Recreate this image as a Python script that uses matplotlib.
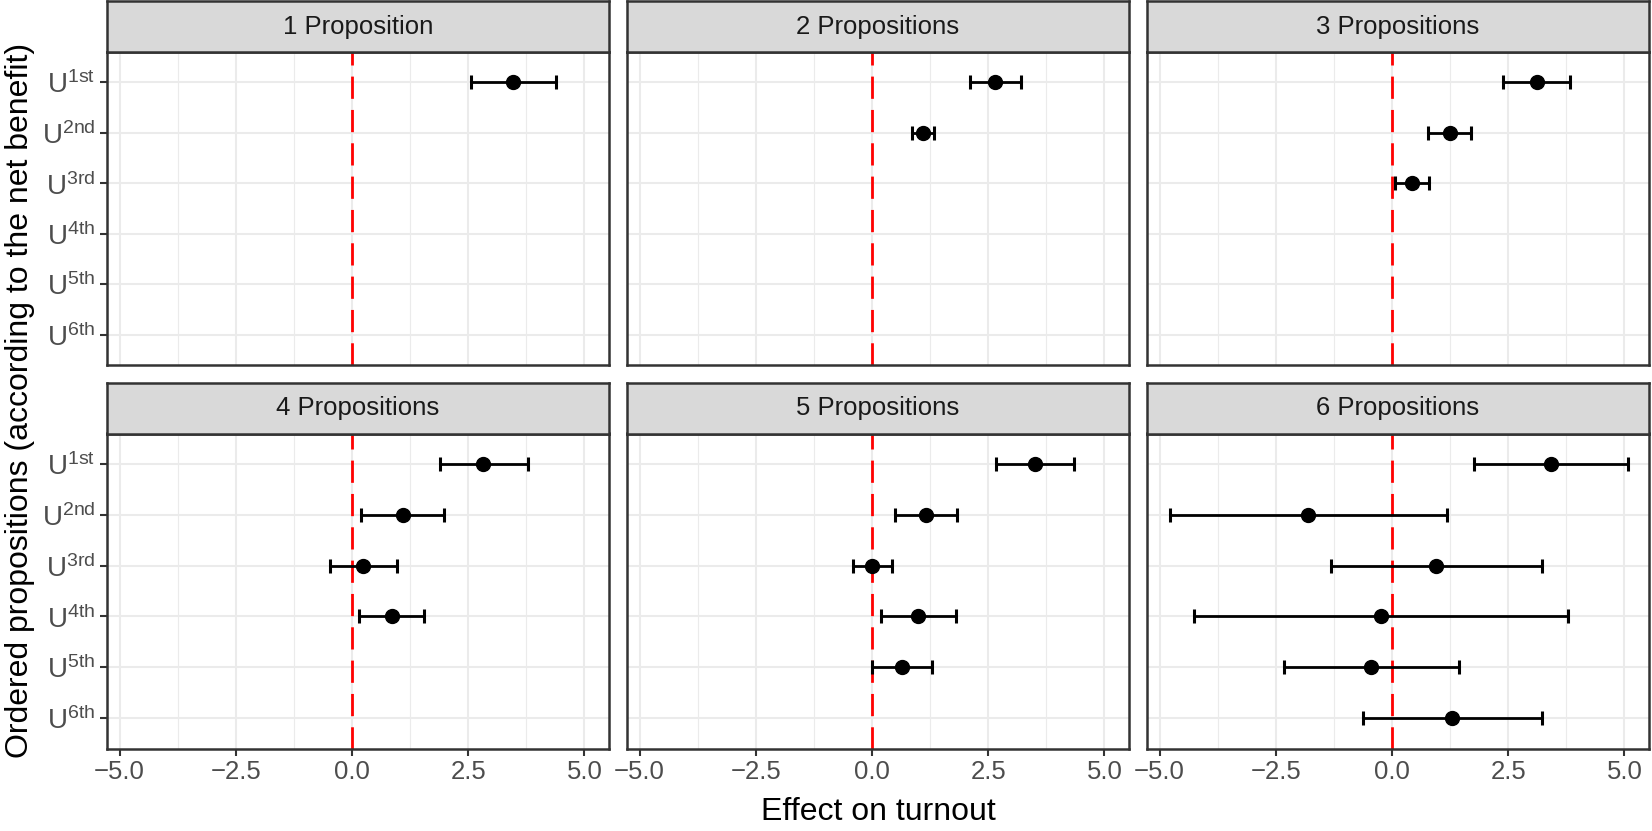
import matplotlib.pyplot as plt
from matplotlib.ticker import MultipleLocator

plt.rcParams['font.family'] = ['Liberation Sans', 'DejaVu Sans']
plt.rcParams['mathtext.default'] = 'regular'

# ordered propositions (rows) and facet titles
row_labels = [r'U$^{1st}$', r'U$^{2nd}$', r'U$^{3rd}$',
              r'U$^{4th}$', r'U$^{5th}$', r'U$^{6th}$']
panel_titles = ['1 Proposition', '2 Propositions', '3 Propositions',
                '4 Propositions', '5 Propositions', '6 Propositions']

# point estimates and confidence bounds, one list per facet
estimate = [
    [3.47],
    [2.64, 1.09],
    [3.12, 1.24, 0.43],
    [2.83, 1.09, 0.24, 0.86],
    [3.50, 1.16, 0.00, 1.00, 0.65],
    [3.43, -1.80, 0.95, -0.24, -0.45, 1.30],
]
lower = [
    [2.56],
    [2.10, 0.86],
    [2.38, 0.77, 0.07],
    [1.89, 0.20, -0.47, 0.16],
    [2.67, 0.49, -0.40, 0.20, 0.01],
    [1.77, -4.78, -1.31, -4.26, -2.33, -0.62],
]
upper = [
    [4.38],
    [3.20, 1.34],
    [3.82, 1.70, 0.79],
    [3.78, 1.99, 0.97, 1.56],
    [4.34, 1.83, 0.43, 1.81, 1.30],
    [5.07, 1.19, 3.22, 3.79, 1.44, 3.22],
]
x_ticks = [-5.0, -2.5, 0.0, 2.5, 5.0]

W, H = 1652, 831
fig = plt.figure(figsize=(W / 100, H / 100), dpi=100)

col_left = [107, 627, 1147]
panel_w = 502
row_strip_top = [1.5, 383]
strip_h = 50.5
panel_h = [313, 315]

border = '#333333'
grid_c = '#EBEBEB'


def px_axes(x0, y0, w, h):
    return fig.add_axes([x0 / W, 1 - (y0 + h) / H, w / W, h / H])


for k in range(6):
    r, c = divmod(k, 3)
    top = row_strip_top[r]
    ax = px_axes(col_left[c], top + strip_h, panel_w, panel_h[r])
    sax = px_axes(col_left[c], top, panel_w, strip_h)

    # strip
    sax.set_facecolor('#D9D9D9')
    sax.set_xticks([])
    sax.set_yticks([])
    for s in sax.spines.values():
        s.set_color(border)
        s.set_linewidth(1.8)
    sax.text(0.5, 0.5, panel_titles[k], ha='center', va='center',
             fontsize=18.5, color='#1A1A1A', transform=sax.transAxes)

    ys = list(range(1, len(estimate[k]) + 1))
    est = estimate[k]
    xerr = [[e - lo for e, lo in zip(est, lower[k])],
            [hi - e for e, hi in zip(est, upper[k])]]
    ax.axvline(0, color='red', lw=2.0, dashes=(8, 4), zorder=2)
    ax.errorbar(est, ys, xerr=xerr, fmt='o', color='black', ms=10,
                elinewidth=2.0, capsize=5, capthick=2.2, zorder=3)

    ax.set_xlim(-5.27, 5.53)
    ax.set_ylim(6.6, 0.4)
    ax.set_xticks(x_ticks)
    ax.xaxis.set_minor_locator(MultipleLocator(1.25))
    ax.set_yticks(range(1, 7))
    ax.grid(which='major', color=grid_c, lw=1.5, zorder=0)
    ax.grid(which='minor', axis='x', color=grid_c, lw=0.8, zorder=0)
    ax.set_axisbelow(True)
    for s in ax.spines.values():
        s.set_color(border)
        s.set_linewidth(1.8)
    ax.tick_params(which='minor', length=0)
    ax.tick_params(which='major', length=5, width=1.5, color=border,
                   labelsize=18.5, labelcolor='#4D4D4D')
    if c == 0:
        ax.set_yticklabels(row_labels, fontsize=20)
    else:
        ax.tick_params(axis='y', length=0, labelleft=False)
    if r == 1:
        ax.set_xticklabels([f'{t:.1f}'.replace('-', '\u2212') for t in x_ticks])
    else:
        ax.tick_params(axis='x', length=0, labelbottom=False)

fig.text(878 / W, 1 - 812 / H, 'Effect on turnout', ha='center', va='center',
         fontsize=23)
fig.text(20 / W, 1 - 400 / H,
         'Ordered propositions (according to the net benefit)',
         ha='center', va='center', rotation=90, fontsize=23)

fig.savefig('out.png', dpi=100)
